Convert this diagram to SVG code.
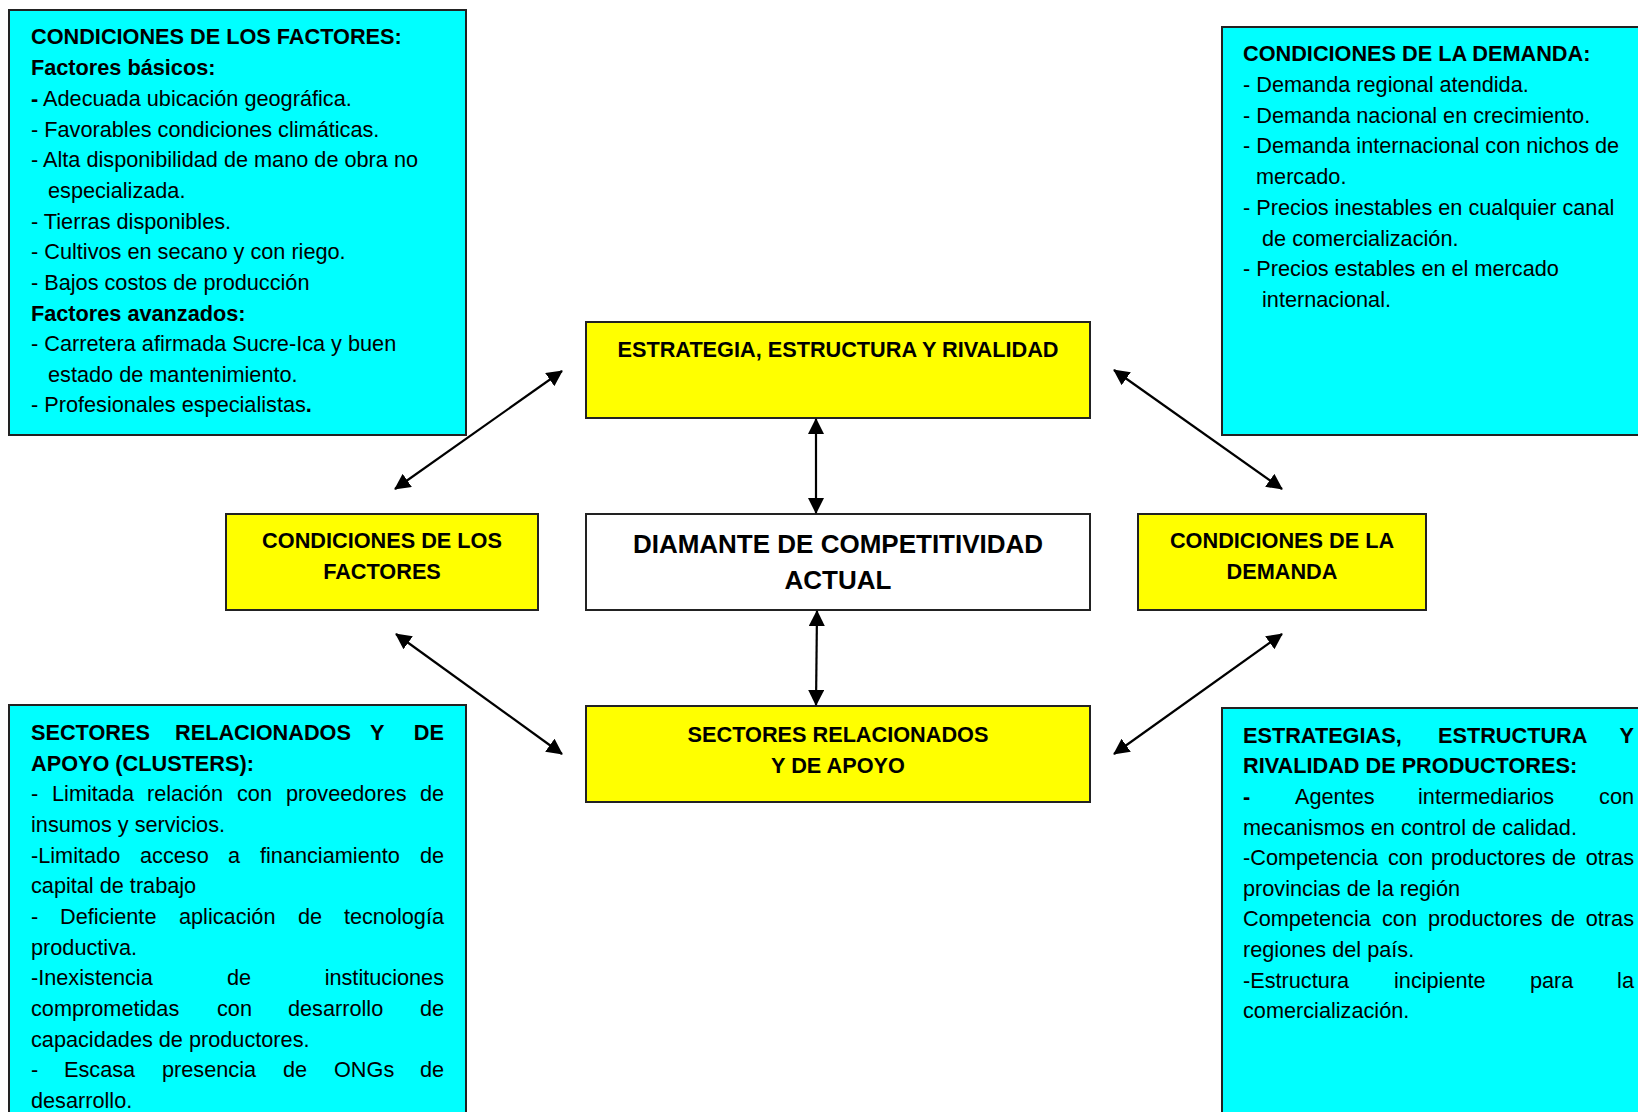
<svg xmlns="http://www.w3.org/2000/svg" width="1638" height="1112" viewBox="0 0 1638 1112">
<style>
text{font-family:"Liberation Sans",Arial,sans-serif;font-size:21.7px;fill:#000}
.b{font-weight:bold}
.c{text-anchor:middle}
.e{text-anchor:end}
.info{fill:#00FFFF;stroke:#222;stroke-width:2}
.yel{fill:#FFFF00;stroke:#222;stroke-width:2}
.wht{fill:#FFFFFF;stroke:#222;stroke-width:2}
.con line{stroke:#000;stroke-width:2.2;marker-start:url(#ah);marker-end:url(#ah)}
</style>
<defs>
<marker id="ah" markerUnits="userSpaceOnUse" viewBox="0 0 16 16" refX="15" refY="8" markerWidth="16" markerHeight="16" orient="auto-start-reverse">
<path d="M0,0 L16,8 L0,16 Z" fill="#000"/>
</marker>
</defs>
<rect width="1638" height="1112" fill="#fff"/>

<g id="info-factores">
<rect class="info" x="9" y="10" width="457" height="425"/>
<text x="31" y="44" class="b">CONDICIONES DE LOS FACTORES:</text>
<text x="31" y="75" class="b">Factores básicos:</text>
<text x="31" y="106"><tspan class="b">-</tspan> Adecuada ubicación geográfica.</text>
<text x="31" y="137">- Favorables condiciones climáticas.</text>
<text x="31" y="167">- Alta disponibilidad de mano de obra no</text>
<text x="48" y="198">especializada.</text>
<text x="31" y="229">- Tierras disponibles.</text>
<text x="31" y="259">- Cultivos en secano y con riego.</text>
<text x="31" y="290">- Bajos costos de producción</text>
<text x="31" y="321" class="b">Factores avanzados:</text>
<text x="31" y="351">- Carretera afirmada Sucre-Ica y buen</text>
<text x="48" y="382">estado de mantenimiento.</text>
<text x="31" y="412">- Profesionales especialistas<tspan class="b">.</tspan></text>
</g>

<g id="info-demanda">
<rect class="info" x="1222" y="27" width="430" height="408"/>
<text x="1243" y="61" class="b">CONDICIONES DE LA DEMANDA:</text>
<text x="1243" y="92">- Demanda regional atendida.</text>
<text x="1243" y="123">- Demanda nacional en crecimiento.</text>
<text x="1243" y="153">- Demanda internacional con nichos de</text>
<text x="1256" y="184">mercado.</text>
<text x="1243" y="215">- Precios inestables en cualquier canal</text>
<text x="1262" y="246">de comercialización.</text>
<text x="1243" y="276">- Precios estables en el mercado</text>
<text x="1262" y="307">internacional.</text>
</g>

<g id="info-sectores">
<rect class="info" x="9" y="705" width="457" height="420"/>
<text y="740" class="b"><tspan x="31">SECTORES</tspan><tspan x="175">RELACIONADOS</tspan><tspan x="370">Y</tspan><tspan x="444" class="e">DE</tspan></text>
<text x="31" y="771" class="b">APOYO (CLUSTERS):</text>
<text y="801"><tspan x="31">-</tspan><tspan x="52">Limitada</tspan><tspan x="147">relación</tspan><tspan x="237">con</tspan><tspan x="286">proveedores</tspan><tspan x="444" class="e">de</tspan></text>
<text x="31" y="832">insumos y servicios.</text>
<text y="863"><tspan x="31">-Limitado</tspan><tspan x="140">acceso</tspan><tspan x="228">a</tspan><tspan x="260">financiamiento</tspan><tspan x="444" class="e">de</tspan></text>
<text x="31" y="893">capital de trabajo</text>
<text y="924"><tspan x="31">-</tspan><tspan x="60">Deficiente</tspan><tspan x="179">aplicación</tspan><tspan x="298">de</tspan><tspan x="444" class="e">tecnología</tspan></text>
<text x="31" y="955">productiva.</text>
<text y="985"><tspan x="31">-Inexistencia</tspan><tspan x="227">de</tspan><tspan x="444" class="e">instituciones</tspan></text>
<text y="1016"><tspan x="31">comprometidas</tspan><tspan x="217">con</tspan><tspan x="288">desarrollo</tspan><tspan x="444" class="e">de</tspan></text>
<text x="31" y="1047">capacidades de productores.</text>
<text y="1077"><tspan x="31">-</tspan><tspan x="64">Escasa</tspan><tspan x="162">presencia</tspan><tspan x="283">de</tspan><tspan x="334">ONGs</tspan><tspan x="444" class="e">de</tspan></text>
<text x="31" y="1108">desarrollo.</text>
</g>

<g id="info-estrategias">
<rect class="info" x="1222" y="708" width="430" height="420"/>
<text y="743" class="b"><tspan x="1243">ESTRATEGIAS,</tspan><tspan x="1438">ESTRUCTURA</tspan><tspan x="1634" class="e">Y</tspan></text>
<text x="1243" y="773" class="b">RIVALIDAD DE PRODUCTORES:</text>
<text y="804"><tspan x="1243" class="b">-</tspan><tspan x="1295">Agentes</tspan><tspan x="1418">intermediarios</tspan><tspan x="1634" class="e">con</tspan></text>
<text x="1243" y="835">mecanismos en control de calidad.</text>
<text y="865"><tspan x="1243">-Competencia</tspan><tspan x="1388">con</tspan><tspan x="1431">productores</tspan><tspan x="1552">de</tspan><tspan x="1634" class="e">otras</tspan></text>
<text x="1243" y="896">provincias de la región</text>
<text y="926"><tspan x="1243">Competencia</tspan><tspan x="1382">con</tspan><tspan x="1428">productores</tspan><tspan x="1551">de</tspan><tspan x="1634" class="e">otras</tspan></text>
<text x="1243" y="957">regiones del país.</text>
<text y="988"><tspan x="1243">-Estructura</tspan><tspan x="1394">incipiente</tspan><tspan x="1530">para</tspan><tspan x="1634" class="e">la</tspan></text>
<text x="1243" y="1018">comercialización.</text>
</g>

<g id="node-estrategia">
<rect class="yel" x="586" y="322" width="504" height="96"/>
<text x="838" y="357" class="b c">ESTRATEGIA, ESTRUCTURA Y RIVALIDAD</text>
</g>

<g id="node-factores">
<rect class="yel" x="226" y="514" width="312" height="96"/>
<text x="382" y="548" class="b c">CONDICIONES DE LOS</text>
<text x="382" y="579" class="b c">FACTORES</text>
</g>

<g id="node-diamante">
<rect class="wht" x="586" y="514" width="504" height="96"/>
<text x="838" y="553" class="b c" style="font-size:26px">DIAMANTE DE COMPETITIVIDAD</text>
<text x="838" y="589" class="b c" style="font-size:26px">ACTUAL</text>
</g>

<g id="node-demanda">
<rect class="yel" x="1138" y="514" width="288" height="96"/>
<text x="1282" y="548" class="b c">CONDICIONES DE LA</text>
<text x="1282" y="579" class="b c">DEMANDA</text>
</g>

<g id="node-sectores">
<rect class="yel" x="586" y="706" width="504" height="96"/>
<text x="838" y="742" class="b c">SECTORES RELACIONADOS</text>
<text x="838" y="773" class="b c">Y DE APOYO</text>
</g>

<g id="connectors" class="con">
<line x1="816" y1="419" x2="816" y2="513"/>
<line x1="817" y1="611" x2="816" y2="705"/>
<line x1="562" y1="371" x2="395" y2="489"/>
<line x1="1114" y1="370" x2="1282" y2="489"/>
<line x1="396" y1="634" x2="562" y2="754"/>
<line x1="1282" y1="634" x2="1114" y2="754"/>
</g>
</svg>
